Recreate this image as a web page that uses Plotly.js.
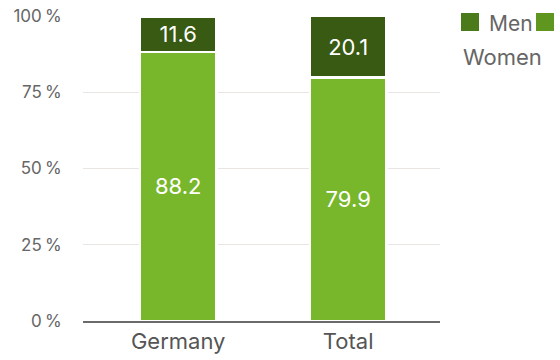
<!DOCTYPE html>
<html>
<head>
<meta charset="utf-8">
<script src="https://cdn.plot.ly/plotly-3.0.1.min.js"></script>
<style>html,body{margin:0;padding:0;background:#fff;}#chart{width:560px;height:360px;}</style>
</head>
<body>
<div id="chart"></div>
<script>
const categories = ['Germany', 'Total'];
const women = [88.2, 79.9];
const men = [11.6, 20.1];
const seriesNames = ['Women', 'Men'];
const tickVals = [0, 25, 50, 75, 100];
const tickText = ['0\u202f%', '25\u202f%', '50\u202f%', '75\u202f%', '100\u202f%'];

const FONT = 'Inter, Roboto, "Liberation Sans", sans-serif';
const cWomen = '#78b72b';
const cMen = '#385a13';

const traces = [
  {
    type: 'bar', name: seriesNames[0], x: categories, y: women,
    text: women.map(v => v.toFixed(1)), textposition: 'inside', insidetextanchor: 'middle',
    textangle: 0, constraintext: 'none',
    textfont: {family: FONT, size: 22, color: '#ffffff'},
    marker: {color: cWomen, line: {color: '#ffffff', width: 2.5}},
    width: 0.45, hoverinfo: 'none', showlegend: false
  },
  {
    type: 'bar', name: seriesNames[1], x: categories, y: men,
    text: men.map(v => v.toFixed(1)), textposition: 'inside', insidetextanchor: 'middle',
    textangle: 0, constraintext: 'none',
    textfont: {family: FONT, size: 22, color: '#ffffff'},
    marker: {color: cMen, line: {color: '#ffffff', width: 2.5}},
    width: 0.45, hoverinfo: 'none', showlegend: false
  }
];

const layout = {
  width: 560, height: 360,
  margin: {l: 83, r: 120, t: 16, b: 39, autoexpand: false},
  paper_bgcolor: '#ffffff', plot_bgcolor: '#ffffff',
  barmode: 'stack',
  showlegend: false,
  font: {family: FONT, color: '#666666'},
  xaxis: {
    range: [-0.56, 1.54], showgrid: false, zeroline: false,
    showline: true, linecolor: '#6b6b6b', linewidth: 2,
    ticks: '', tickfont: {family: FONT, size: 22, color: '#555555'}
  },
  yaxis: {
    range: [0, 100], tickvals: tickVals, ticktext: tickText,
    showgrid: true, gridcolor: '#e9e5e2', gridwidth: 1,
    zeroline: false, showline: false,
    ticks: 'outside', ticklen: 17, tickcolor: 'rgba(0,0,0,0)',
    tickfont: {family: FONT, size: 17, color: '#666666'}
  },
  shapes: [
    {type: 'rect', xref: 'paper', yref: 'paper', x0: 1.0588, x1: 1.1092, y0: 0.9508, y1: 1.0098,
     fillcolor: '#4a7a1a', line: {width: 0}},
    {type: 'rect', xref: 'paper', yref: 'paper', x0: 1.2689, x1: 1.3193, y0: 0.9508, y1: 1.0098,
     fillcolor: '#5e961f', line: {width: 0}}
  ],
  annotations: [
    {xref: 'paper', yref: 'paper', x: 1.1345, y: 0.977, xanchor: 'left', yanchor: 'middle',
     text: seriesNames[1], showarrow: false, borderpad: 0,
     font: {family: FONT, size: 21, color: '#666666'}},
    {xref: 'paper', yref: 'paper', x: 1.0616, y: 0.8656, xanchor: 'left', yanchor: 'middle',
     text: seriesNames[0], showarrow: false, borderpad: 0,
     font: {family: FONT, size: 22, color: '#666666'}}
  ]
};

Plotly.newPlot('chart', traces, layout, {staticPlot: true, displayModeBar: false});
</script>
</body>
</html>
